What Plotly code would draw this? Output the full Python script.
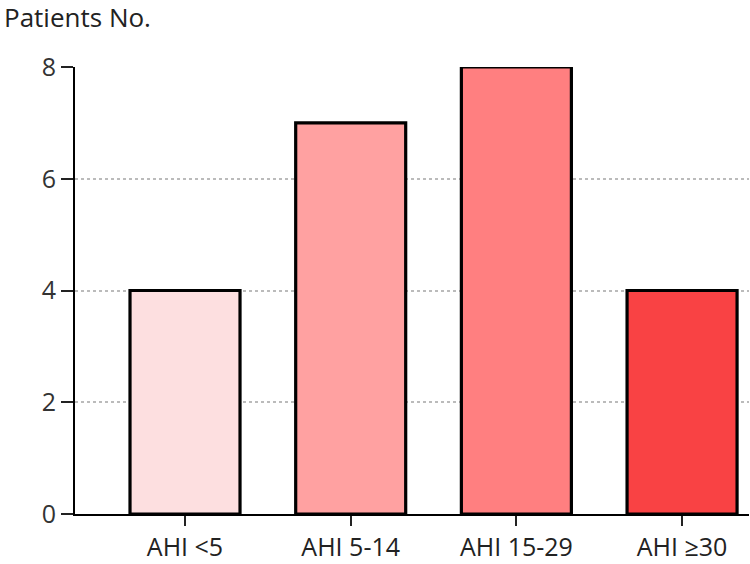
import plotly.graph_objects as go

categories = ["AHI <5", "AHI 5-14", "AHI 15-29", "AHI ≥30"]
patients = [4, 7, 8, 4]
bar_colors = ["#FDDFE0", "#FFA1A1", "#FF7F80", "#F94244"]
y_ticks = [0, 2, 4, 6, 8]

fig = go.Figure()
fig.add_trace(go.Bar(
    x=list(range(len(categories))), y=patients,
    width=0.664,
    marker=dict(color=bar_colors, line=dict(color="black", width=3.2)),
))

font = "Open Sans, Noto Sans, sans-serif"
fig.update_layout(
    width=750, height=564,
    margin=dict(l=75, r=1, t=67, b=48),
    plot_bgcolor="white", paper_bgcolor="white",
    showlegend=False,
    font=dict(family=font, color="#222", size=24),
    xaxis=dict(
        range=[-0.664, 3.404],
        tickmode="array", tickvals=list(range(len(categories))), ticktext=categories,
        showline=True, linecolor="black", linewidth=2,
        ticks="outside", ticklen=10, tickwidth=2, tickcolor="#222",
        showgrid=False, zeroline=False,
        tickfont=dict(size=25, family=font, color="#222"),
    ),
    yaxis=dict(
        range=[0, 8],
        tickvals=y_ticks,
        showline=True, linecolor="black", linewidth=2,
        ticks="outside", ticklen=12, tickwidth=2, tickcolor="#222",
        showgrid=True, gridcolor="#BBBBBB", griddash="dot", gridwidth=1.5,
        zeroline=False,
        tickfont=dict(size=25, family=font, color="#333"),
    ),
    annotations=[dict(
        text="Patients No.", xref="paper", yref="paper",
        x=0, y=1, xanchor="left", yanchor="middle",
        xshift=-73, yshift=50, showarrow=False,
        font=dict(size=26, family=font, color="#222"),
    )],
)

fig.write_html("out.html", config={"displayModeBar": False},
               post_script="document.body.style.margin='0';")
